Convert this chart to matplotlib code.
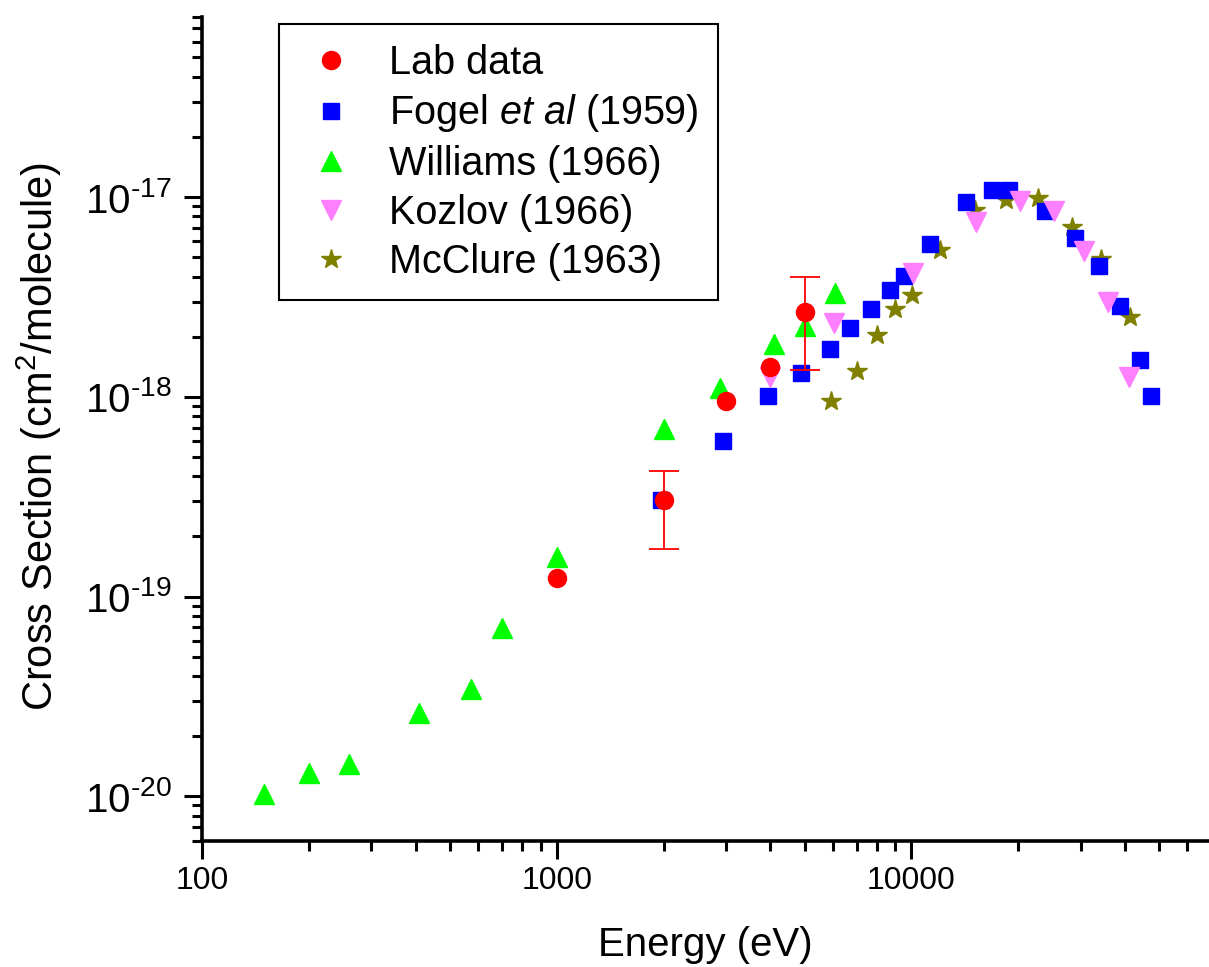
import matplotlib
matplotlib.use("Agg")
import matplotlib.pyplot as plt
import numpy as np
from matplotlib.ticker import LogLocator, FixedLocator, FixedFormatter, NullFormatter

plt.rcParams['font.family'] = ['Liberation Sans', 'DejaVu Sans']
plt.rcParams['mathtext.fontset'] = 'custom'
plt.rcParams['mathtext.rm'] = 'Liberation Sans'
plt.rcParams['mathtext.it'] = 'Liberation Sans:italic'

# Lab data
lab_E = [1000, 2000, 3000, 4000, 5000]
lab_sig = [1.235e-19, 3.04e-19, 9.56e-19, 1.41e-18, 2.67e-18]
# error bars (only two points)
err_E = [2000, 5000]
err_low = [1.72e-19, 1.36e-18]
err_high = [4.25e-19, 4.0e-18]

# Fogel et al (1959)
fogel_E = [1970, 2950, 3950, 4880, 5900, 6730, 7680, 8685, 9510, 11310, 14290,
           16920, 18840, 23750, 28850, 33790, 38640, 44200, 47470]
fogel_sig = [3.05e-19, 6.03e-19, 1.013e-18, 1.31e-18, 1.74e-18, 2.21e-18, 2.75e-18,
             3.43e-18, 4.03e-18, 5.83e-18, 9.4e-18, 1.088e-17, 1.088e-17, 8.47e-18,
             6.23e-18, 4.53e-18, 2.85e-18, 1.53e-18, 1.01e-18]

# Williams (1966)
will_E = [150, 200, 260, 410, 573, 700, 1000, 2000, 2880, 4100, 5000, 6100]
will_sig = [1.03e-20, 1.30e-20, 1.45e-20, 2.60e-20, 3.43e-20, 6.94e-20, 1.57e-19,
            6.90e-19, 1.107e-18, 1.83e-18, 2.26e-18, 3.30e-18]

# Kozlov (1966)
koz_E = [3990, 6050, 10100, 15250, 20200, 25180, 30590, 35810, 41040]
koz_sig = [1.25e-18, 2.34e-18, 4.16e-18, 7.46e-18, 9.6e-18, 8.47e-18, 5.34e-18,
           3.0e-18, 1.25e-18]

# McClure (1963)
mcc_E = [5950, 7000, 8000, 9000, 10050, 12000, 15080, 18440, 22740, 28420, 34310, 41230]
mcc_sig = [9.56e-19, 1.35e-18, 2.04e-18, 2.75e-18, 3.24e-18, 5.44e-18, 8.64e-18,
           9.69e-18, 9.9e-18, 7.07e-18, 4.89e-18, 2.52e-18]

fig = plt.figure(figsize=(12.09, 9.67), dpi=100)
ax = fig.add_axes([0.1671, 0.1308, 0.8329, 0.8519])

h_mcc, = ax.plot(mcc_E, mcc_sig, ls='none', marker='*', ms=15, color='#808000',
                 mec='#808000', label='McClure (1963)')
h_fog, = ax.plot(fogel_E, fogel_sig, ls='none', marker='s', ms=11, color='#0000FF',
                 label=r'Fogel $\mathit{et\ al}$ (1959)')
h_wil, = ax.plot(will_E, will_sig, ls='none', marker='^', ms=15, color='#00FF00',
                 label='Williams (1966)')
h_koz, = ax.plot(koz_E, koz_sig, ls='none', marker='v', ms=15, color='#FF80FF',
                 label='Kozlov (1966)')

# error bars for the lab data
err_sig = [lab_sig[lab_E.index(e)] for e in err_E]
yerr = [np.array(err_sig) - np.array(err_low), np.array(err_high) - np.array(err_sig)]
ax.errorbar(err_E, err_sig, yerr=yerr, fmt='none', ecolor='#FF0000', elinewidth=1.3,
            capsize=11, capthick=1.3)
h_lab, = ax.plot(lab_E, lab_sig, ls='none', marker='o', ms=13, color='#FF0000',
                 label='Lab data')

ax.set_xscale('log')
ax.set_yscale('log')
ax.set_xlim(100, 69000)
ax.set_ylim(6e-21, 8e-17)

for s in ['top', 'right']:
    ax.spines[s].set_visible(False)
for s in ['left', 'bottom']:
    ax.spines[s].set_linewidth(2.6)

ax.xaxis.set_major_locator(FixedLocator([100, 1000, 10000]))
ax.xaxis.set_major_formatter(FixedFormatter(['100', '1000', '10000']))
ax.xaxis.set_minor_locator(LogLocator(base=10, subs=np.arange(2, 10)))
ax.xaxis.set_minor_formatter(NullFormatter())

yt = [1e-20, 1e-19, 1e-18, 1e-17]
ax.yaxis.set_major_locator(FixedLocator(yt))
ax.yaxis.set_major_formatter(FixedFormatter([r'$\mathregular{10^{\text{-}20}}$',
                                             r'$\mathregular{10^{\text{-}19}}$',
                                             r'$\mathregular{10^{\text{-}18}}$',
                                             r'$\mathregular{10^{\text{-}17}}$']))
ax.yaxis.set_minor_locator(LogLocator(base=10, subs=np.arange(2, 10)))
ax.yaxis.set_minor_formatter(NullFormatter())

ax.tick_params(axis='both', which='major', direction='out', length=13, width=2.2)
ax.tick_params(axis='both', which='minor', direction='out', length=7, width=2.2)
ax.tick_params(axis='x', which='major', labelsize=23, pad=5)
ax.tick_params(axis='y', which='major', labelsize=29, pad=9)

ax.set_xlabel('Energy (eV)', fontsize=29)
ax.set_ylabel(r'Cross Section (cm$^{\mathregular{2}}$/molecule)', fontsize=30)
ax.xaxis.set_label_coords(0.5, -0.104)
ax.yaxis.set_label_coords(-0.137, 0.49)

leg = ax.legend(handles=[h_lab, h_fog, h_wil, h_koz, h_mcc], loc='upper left',
                bbox_to_anchor=(279 / 1209, 1 - 24 / 967), bbox_transform=fig.transFigure,
                fontsize=28.5, frameon=True, fancybox=False, edgecolor='black',
                framealpha=1, borderaxespad=0, borderpad=0.5, labelspacing=0.27,
                handlelength=1.62, handletextpad=0.66, numpoints=1)
leg.get_frame().set_linewidth(1.5)

fig.savefig('out.png', dpi=100)
